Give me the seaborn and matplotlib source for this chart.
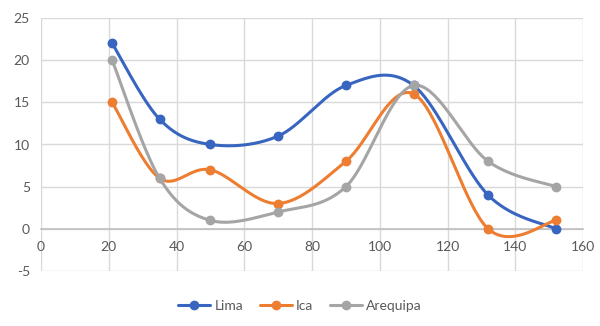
import numpy as np
import pandas as pd
import matplotlib
matplotlib.use("Agg")
import matplotlib.pyplot as plt
import seaborn as sns
from matplotlib.lines import Line2D

x_vals = [21, 35, 50, 70, 90, 110, 132, 152]
lima = [22, 13, 10, 11, 17, 17, 4, 0]
ica = [15, 6, 7, 3, 8, 16, 0, 1]
arequipa = [20, 6, 1, 2, 5, 17, 8, 5]
series_names = ["Lima", "Ica", "Arequipa"]
colors = ["#3865C0", "#ED7D31", "#A5A5A5"]
x_ticks = [0, 20, 40, 60, 80, 100, 120, 140, 160]
y_ticks = [-5, 0, 5, 10, 15, 20, 25]

sns.set_theme(style="white")
plt.rcParams['font.family'] = ['Lato', 'DejaVu Sans']
plt.rcParams['axes.unicode_minus'] = False


def smooth(xs, ys, n=40):
    xs = np.asarray(xs, float); ys = np.asarray(ys, float)
    P = np.column_stack([xs, ys])
    Pe = np.vstack([P[0], P, P[-1]])
    out = []
    for i in range(len(P) - 1):
        p0, p1, p2, p3 = Pe[i], Pe[i + 1], Pe[i + 2], Pe[i + 3]
        c1 = p1 + (p2 - p0) / 6.0
        c2 = p2 - (p3 - p1) / 6.0
        t = np.linspace(0, 1, n)[:, None]
        seg = ((1 - t) ** 3) * p1 + 3 * ((1 - t) ** 2) * t * c1 + 3 * (1 - t) * t ** 2 * c2 + t ** 3 * p2
        out.append(seg if i == 0 else seg[1:])
    return np.vstack(out)


fig = plt.figure(figsize=(6.0, 3.26), dpi=100)
ax = fig.add_axes([41 / 600, 1 - 271 / 326, 542 / 600, 253 / 326])

for name, ys, c in zip(series_names, [lima, ica, arequipa], colors):
    curve = smooth(x_vals, ys)
    dfc = pd.DataFrame({"x": curve[:, 0], "y": curve[:, 1]})
    sns.lineplot(data=dfc, x="x", y="y", sort=False, estimator=None, ax=ax,
                 color=c, lw=2.2, zorder=3)
    dfp = pd.DataFrame({"x": x_vals, "y": ys})
    sns.scatterplot(data=dfp, x="x", y="y", ax=ax, color=c, s=50,
                    edgecolor=c, linewidth=0, zorder=4)

ax.set_xlim(0, 160)
ax.set_ylim(-5, 25)
ax.set_xticks(x_ticks)
ax.set_yticks(y_ticks)
ax.grid(True, color="#D9D9D9", lw=1.0)
ax.set_axisbelow(True)
for s in ["left", "right", "top"]:
    ax.spines[s].set_visible(False)
ax.spines["bottom"].set_position(("data", 0))
ax.spines["bottom"].set_color("#BFBFBF")
ax.spines["bottom"].set_linewidth(1.2)
ax.tick_params(axis="x", length=0, pad=9, labelsize=10, labelcolor="#595959")
ax.tick_params(axis="y", length=0, pad=8, labelsize=10, labelcolor="#595959")
ax.set_xlabel("")
ax.set_ylabel("")

handles = [Line2D([0], [0], color=c, lw=2.2, marker="o", ms=7, markeredgewidth=0)
           for c in colors]
fig.legend(handles, series_names, loc="center", bbox_to_anchor=(0.5, 1 - 306 / 326),
           ncol=3, frameon=False, fontsize=10, labelcolor="#595959",
           handlelength=2.3, columnspacing=1.2, handletextpad=0.3)

fig.savefig("out.png", dpi=100)
